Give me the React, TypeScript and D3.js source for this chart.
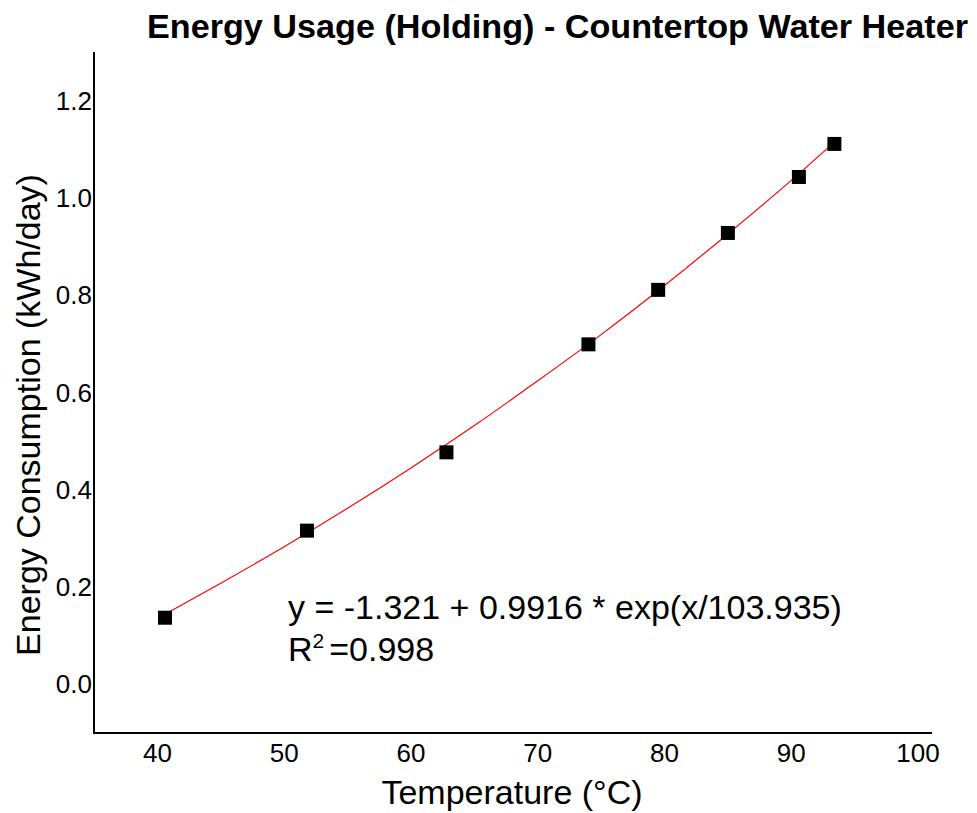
import React from 'react';
import * as d3 from 'd3';

// measured temperatures and daily energy use
const temps = [40.6, 51.8, 62.8, 74.0, 79.5, 85.0, 90.6, 93.4];
const energy = [0.137, 0.316, 0.477, 0.699, 0.811, 0.928, 1.043, 1.111];

// red fit curve
const fitX = [40.6, 45, 50, 55, 60, 65, 70, 75, 80, 85, 90, 93.4];
const fitY = [0.144, 0.208, 0.283, 0.362, 0.445, 0.532, 0.624, 0.719, 0.82, 0.926, 1.036, 1.115];

const xTicks = [40, 50, 60, 70, 80, 90, 100];
const yTicks = [0.0, 0.2, 0.4, 0.6, 0.8, 1.0, 1.2];

const title = 'Energy Usage (Holding) - Countertop Water Heater';
const xLabel = 'Temperature (°C)';
const yLabel = 'Energy Consumption (kWh/day)';
const equation = 'y = -1.321 + 0.9916 * exp(x/103.935)';
const rSquared = '=0.998';

const width = 977;
const height = 813;
const font = '"Liberation Sans", Arial, sans-serif';

const App = () => {
    const x = d3.scaleLinear().domain([35, 101.1]).range([94, 932]);
    const y = d3.scaleLinear().domain([-0.1, 1.3]).range([733, 52]);

    const fitLine = d3.line<number>()
        .x((d, i) => x(fitX[i]))
        .y(d => y(d))
        .curve(d3.curveMonotoneX);

    const fmt = d3.format('.1f');
    const markerSize = 14;

    return (
        <svg width={width} height={height} style={{ position: 'absolute', left: 0, top: 0, background: '#fff' }}
            fontFamily={font}>
            <text x={147} y={38} fontSize={34} fontWeight="bold"
                textLength={821} lengthAdjust="spacingAndGlyphs">{title}</text>

            {/* axes */}
            <line x1={x(35)} x2={x(35)} y1={y(1.3)} y2={y(-0.1) + 1} stroke="#000" strokeWidth={2} />
            <line x1={x(35) - 1} x2={x(101.1)} y1={y(-0.1)} y2={y(-0.1)} stroke="#000" strokeWidth={2} />

            {xTicks.map(t => (
                <text key={t} x={x(t)} y={762} textAnchor="middle" fontSize={26}>{t}</text>
            ))}
            {yTicks.map(t => (
                <text key={t} x={92} y={y(t) + 9} textAnchor="end" fontSize={26}>{fmt(t)}</text>
            ))}

            <text x={512} y={804} textAnchor="middle" fontSize={34}>{xLabel}</text>
            <text transform={`translate(40, 415) rotate(-90)`} textAnchor="middle" fontSize={34}>{yLabel}</text>

            <path d={fitLine(fitY) || ''} fill="none" stroke="#ff0000" strokeWidth={1.2} />

            {temps.map((t, i) => (
                <rect key={i} x={x(t) - markerSize / 2} y={y(energy[i]) - markerSize / 2}
                    width={markerSize} height={markerSize} fill="#000" />
            ))}

            <text x={288} y={619} fontSize={34}>{equation}</text>
            <text x={288} y={661} fontSize={34}>
                R<tspan dy={-13} fontSize={21}>2</tspan><tspan dy={13} dx={5}>{rSquared}</tspan>
            </text>
        </svg>
    );
};

export default App;
